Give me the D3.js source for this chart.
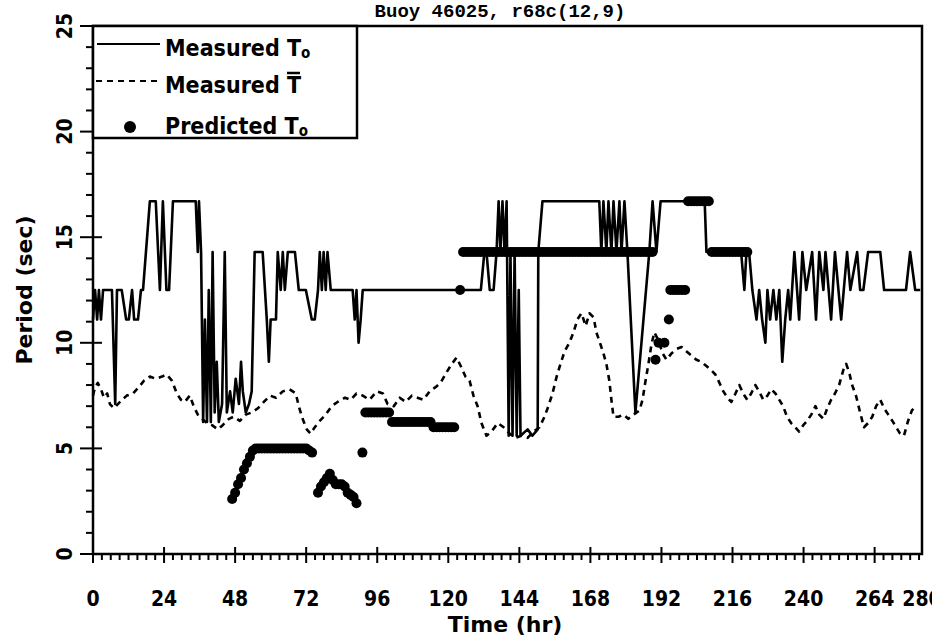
<!DOCTYPE html>
<html>
<head>
<meta charset="utf-8">
<script src="https://cdn.jsdelivr.net/npm/d3@7"></script>
<style>
  html, body { margin: 0; padding: 0; background: #fff; }
  svg { display: block; }
  text { font-family: "DejaVu Sans", sans-serif; font-weight: bold; fill: #000; }
  .cond { font-family: "DejaVu Sans Condensed", "DejaVu Sans", sans-serif; font-stretch: condensed; }
</style>
</head>
<body>
<svg id="chart" width="932" height="640"></svg>
<script>
// ---------------- DATA ----------------
const titleText = "Buoy 46025,  r68c(12,9)";
const xTickValues = [0, 24, 48, 72, 96, 120, 144, 168, 192, 216, 240, 264, 280];
const yTickValues = [0, 5, 10, 15, 20, 25];

// Measured T0 (solid line): time (hr), period (sec)
const measT0Time = [0, 0.7, 1.4, 2.0, 2.7, 3.4, 6.4, 7.5, 8.1, 9.7, 11.2, 12.1, 13.2, 13.9, 15.2, 16.2, 16.9,
  19.2, 21.2, 22.6, 23.6, 24.8, 25.7, 27.0, 34.7, 35.4, 35.8, 36.5, 37.2,
  37.8, 38.5, 39.1, 39.8, 40.4, 41.1, 41.8, 42.5, 43.6, 44.5, 45.2, 46.3, 47.2, 48.2, 49.3, 50.0, 50.6, 51.6, 52.7, 53.6,
  54.6, 57.3, 58.7, 59.4, 60.0, 61.8, 62.4, 63.4, 64.1, 64.8, 65.8, 68.2, 69.5, 71.9, 73.9, 74.9, 76.0, 76.6, 77.3, 77.9,
  78.6, 79.2, 80.3, 87.7, 88.4, 89.0, 89.7, 90.4, 91.1,
  131.0, 132.2, 132.9, 134.0, 135.3, 136.3, 137.0, 137.6, 138.3, 139.0, 139.7, 140.4, 141.0, 141.7, 142.4, 143.1,
  143.8, 144.4, 146.8, 148.4, 150.2, 150.4, 151.8,
  171.0, 171.7, 172.4, 173.4, 174.1, 175.1, 175.8, 176.8, 177.8, 178.5, 179.5, 180.5, 183.2, 187.9, 189.0, 190.3, 191.7,
  206.6, 207.2, 218.9, 220.0, 220.7, 221.6, 222.7, 224.1, 225.0, 226.0, 227.1, 227.8, 228.7, 229.8, 230.8, 231.8,
  232.8, 233.8, 234.8, 235.5, 236.9, 238.5, 239.6, 240.9, 242.9, 244.2, 245.3, 246.7, 247.4, 249.3, 250.6, 252.7,
  254.7, 255.8, 258.1, 259.1, 260.2, 261.8, 265.9, 267.2, 274.6, 276.0, 277.7, 279.4];
const measT0Period = [11.1, 12.5, 11.1, 12.5, 11.1, 12.5, 12.5, 7.1, 12.5, 12.5, 11.1, 11.1, 12.5, 11.1, 11.1, 12.5, 12.5,
  16.7, 16.7, 12.5, 16.7, 12.5, 12.5, 16.7, 16.7, 14.3, 16.7, 14.3, 6.25,
  11.1, 6.25, 12.5, 6.25, 14.3, 6.7, 9.1, 6.25, 7.1, 14.3, 6.7, 7.7, 6.7, 8.3, 7.1, 9.1, 7.7, 6.7, 7.1, 7.7,
  14.3, 14.3, 11.1, 9.1, 11.1, 11.1, 14.3, 12.5, 14.3, 12.5, 14.3, 14.3, 12.5, 12.5, 11.1, 11.1, 12.5, 14.3, 12.5, 14.3,
  12.5, 14.3, 12.5, 12.5, 11.1, 12.5, 10.0, 11.1, 12.5,
  12.5, 14.3, 14.3, 12.5, 12.5, 14.3, 16.7, 14.3, 16.7, 14.3, 16.7, 5.6, 14.3, 5.6, 14.3, 5.6,
  12.5, 5.6, 5.9, 5.6, 5.9, 14.3, 16.7,
  16.7, 14.3, 16.7, 14.3, 16.7, 14.3, 16.7, 14.3, 16.7, 14.3, 16.7, 14.3, 6.7, 14.3, 16.7, 14.3, 16.7,
  16.7, 14.3, 14.3, 12.5, 14.3, 14.3, 12.5, 11.1, 12.5, 11.1, 10.0, 12.5, 11.1, 12.5, 11.1, 12.5,
  9.1, 11.1, 12.5, 11.1, 14.3, 11.1, 14.3, 12.5, 14.3, 11.1, 14.3, 12.5, 14.3, 11.1, 14.3, 11.1,
  14.3, 12.5, 14.3, 12.5, 12.5, 14.3, 14.3, 12.5, 12.5, 14.3, 12.5, 12.5];

// Measured T-bar (dashed line)
const measTbarTime = [0, 0.7, 1.6, 2.7, 3.7, 4.8, 5.7, 7.1, 8.4, 9.8, 11.4, 13.5, 15.5, 17.2, 19.2, 21.2, 23.3, 24.9,
  26.7, 28.3, 29.7, 31.0, 32.7, 34.0, 35.4, 36.8, 38.5, 40.2, 42.2, 43.8, 45.9, 47.5, 49.6, 51.6, 53.6, 55.7, 57.7,
  59.8, 61.8, 64.1, 66.4, 68.5, 69.5, 70.8, 72.2, 73.5, 74.9, 76.6, 78.6, 80.6, 82.6, 85.1, 87.0, 89.0, 91.1, 93.4,
  95.8, 97.9, 99.5, 101.6, 103.6, 105.6, 107.7, 109.6, 111.6, 113.7, 115.7, 117.4, 119.4, 121.2, 122.8, 124.2,
  125.8, 127.2, 128.5, 129.9, 131.2, 132.9, 134.6, 136.7, 138.7, 140.7, 142.7, 144.7, 146.8, 148.8, 150.8, 152.5,
  153.8, 155.2, 156.6, 157.9, 159.3, 160.9, 162.3, 163.6, 165.0, 166.4, 167.7, 169.1, 170.0, 171.0, 172.4, 173.4,
  174.4, 175.1, 175.8, 177.5, 179.2, 180.8, 182.6, 184.6, 185.6, 186.5, 187.6, 188.6, 189.6, 191.0, 192.4, 193.7,
  195.4, 197.0, 198.8, 200.4, 202.1, 203.8, 205.4, 207.2, 208.8, 210.2, 211.6, 212.9, 214.3, 215.6, 217.0, 218.3,
  219.6, 221.0, 222.3, 223.7, 225.0, 226.4, 227.8, 229.1, 230.5, 231.8, 233.1, 234.4, 235.8, 237.2, 238.5, 239.9,
  241.2, 242.6, 244.0, 245.3, 246.7, 248.0, 249.3, 250.6, 252.0, 253.4, 254.4, 255.4, 256.4, 257.7, 259.1, 260.4,
  261.8, 263.2, 264.5, 265.9, 267.2, 268.6, 270.0, 271.3, 272.6, 273.9, 275.3, 276.6, 278.0];
const measTbarPeriod = [7.5, 7.9, 8.1, 7.8, 7.4, 7.6, 7.1, 6.9, 7.1, 7.3, 7.5, 7.6, 7.9, 8.2, 8.4, 8.3, 8.4, 8.5,
  8.2, 7.6, 7.3, 7.2, 7.5, 7.0, 6.6, 6.4, 6.2, 6.1, 5.9, 6.1, 6.4, 6.5, 6.3, 6.6, 6.7, 6.9, 7.2,
  7.5, 7.4, 7.7, 7.8, 7.6, 7.0, 6.4, 5.9, 5.7, 6.0, 6.3, 6.6, 7.0, 7.2, 7.4, 7.3, 7.6, 7.5, 7.3,
  7.7, 7.6, 7.1, 7.0, 7.4, 7.2, 7.5, 7.4, 7.3, 7.7, 7.9, 8.1, 8.6, 9.0, 9.3, 8.9,
  8.4, 8.2, 7.5, 7.0, 6.2, 5.6, 5.8, 6.2, 6.0, 5.7, 5.5, 5.6, 5.5, 5.8, 6.0, 6.5,
  7.0, 7.6, 8.4, 9.0, 9.6, 10.0, 10.5, 11.1, 11.4, 10.8, 11.4, 11.2, 10.5, 10.1, 9.5, 9.0,
  8.2, 7.3, 6.5, 6.5, 6.6, 6.4, 6.6, 6.8, 7.3, 8.1, 9.0, 9.9, 10.5, 10.1, 9.5, 9.2,
  9.5, 9.7, 9.8, 9.6, 9.4, 9.2, 9.1, 8.9, 8.7, 8.5, 8.1, 7.7, 7.4, 7.2, 7.6, 8.0,
  7.6, 7.3, 7.6, 8.0, 7.7, 7.3, 7.5, 7.8, 7.6, 7.3, 7.0, 6.5, 6.2, 6.0, 5.8, 6.1,
  6.3, 6.6, 7.0, 6.6, 6.4, 6.9, 7.3, 7.6, 8.0, 8.7, 9.0, 8.6, 8.0, 7.5, 6.7, 6.0,
  6.2, 6.5, 7.0, 7.3, 6.9, 6.6, 6.3, 6.0, 5.7, 5.6, 6.3, 6.8, 7.0];

// Predicted T0 (dots)
const predTime = [47, 48, 49, 50, 51, 52, 53, 54, 55, 56, 57, 58, 59, 60, 61, 62, 63, 64, 65, 66, 67, 68, 69, 70, 71, 72, 73, 74,
  76, 77, 78, 79, 80, 81, 82, 83, 84, 85, 86, 87, 88, 89,
  91, 92, 93, 94, 95, 96, 97, 98, 99, 100,
  101, 102, 103, 104, 105, 106, 107, 108, 109, 110, 111, 112, 113, 114,
  115, 116, 117, 118, 119, 120, 121, 122, 124,
  125, 126, 127, 128, 129, 130, 131, 132, 133, 134, 135, 136, 137, 138, 139, 140, 141, 142, 143, 144, 145, 146,
  147, 148, 149, 150, 151, 152, 153, 154, 155, 156, 157, 158, 159, 160, 161, 162, 163, 164, 165, 166, 167, 168,
  169, 170, 171, 172, 173, 174, 175, 176, 177, 178, 179, 180, 181, 182, 183, 184, 185, 186, 187, 188, 189,
  190, 191, 193, 194.5, 195, 196, 197, 198, 199, 200,
  201, 202, 203, 204, 205, 206, 207, 208,
  209, 210, 211, 212, 213, 214, 215, 216, 217, 218, 219, 220, 221];
const predPeriod = [2.6, 2.9, 3.3, 3.6, 4.0, 4.3, 4.6, 4.9, 5.0, 5.0, 5.0, 5.0, 5.0, 5.0, 5.0, 5.0, 5.0, 5.0, 5.0, 5.0, 5.0, 5.0, 5.0, 5.0, 5.0, 5.0, 4.9, 4.8,
  2.9, 3.2, 3.4, 3.6, 3.8, 3.5, 3.3, 3.3, 3.3, 3.2, 2.9, 2.8, 2.7, 2.4,
  4.8, 6.7, 6.7, 6.7, 6.7, 6.7, 6.7, 6.7, 6.7, 6.7,
  6.25, 6.25, 6.25, 6.25, 6.25, 6.25, 6.25, 6.25, 6.25, 6.25, 6.25, 6.25, 6.25, 6.25,
  6.0, 6.0, 6.0, 6.0, 6.0, 6.0, 6.0, 6.0, 12.5,
  14.3, 14.3, 14.3, 14.3, 14.3, 14.3, 14.3, 14.3, 14.3, 14.3, 14.3, 14.3, 14.3, 14.3, 14.3, 14.3, 14.3, 14.3, 14.3, 14.3, 14.3, 14.3,
  14.3, 14.3, 14.3, 14.3, 14.3, 14.3, 14.3, 14.3, 14.3, 14.3, 14.3, 14.3, 14.3, 14.3, 14.3, 14.3, 14.3, 14.3, 14.3, 14.3, 14.3, 14.3,
  14.3, 14.3, 14.3, 14.3, 14.3, 14.3, 14.3, 14.3, 14.3, 14.3, 14.3, 14.3, 14.3, 14.3, 14.3, 14.3, 14.3, 14.3, 14.3, 14.3, 14.3,
  9.2, 10.0, 10.0, 11.1, 12.5, 12.5, 12.5, 12.5, 12.5, 12.5,
  16.7, 16.7, 16.7, 16.7, 16.7, 16.7, 16.7, 16.7,
  14.3, 14.3, 14.3, 14.3, 14.3, 14.3, 14.3, 14.3, 14.3, 14.3, 14.3, 14.3, 14.3];

const legendLabels = ["Measured T", "Measured T", "Predicted T"];

// ---------------- CHART ----------------
const svg = d3.select("#chart");
const mL = 93, mR = 922, mT = 26, mB = 554;
const x = d3.scaleLinear().domain([0, 280]).range([mL, mR]);
const y = d3.scaleLinear().domain([0, 25]).range([mB, mT]);

// Title
svg.append("text").attr("x", 500).attr("y", 17).attr("text-anchor", "middle")
  .style("font-family", "'Liberation Mono', 'Courier New', monospace").style("font-size", "19px")
  .text(titleText);

// Frame
svg.append("rect").attr("x", mL).attr("y", mT).attr("width", mR - mL).attr("height", mB - mT)
  .attr("fill", "none").attr("stroke", "#000").attr("stroke-width", 2.5);

// X axis: minor ticks every 3 h, major every 24 h
const xMinor = d3.range(0, 280, 3);
svg.append("g").selectAll("line").data(xMinor).join("line")
  .attr("x1", d => x(d)).attr("x2", d => x(d))
  .attr("y1", d => d % 24 === 0 ? mB - 7 : mB)
  .attr("y2", d => d % 24 === 0 ? mB + 9 : mB + 6)
  .attr("stroke", "#000").attr("stroke-width", 2);
svg.append("g").selectAll("text").data(xTickValues).join("text")
  .attr("class", "cond")
  .attr("x", d => x(d)).attr("y", 606).attr("text-anchor", "middle")
  .style("font-size", "21px").text(d => d);
svg.append("text").attr("x", 505).attr("y", 632).attr("text-anchor", "middle")
  .style("font-size", "22px").text("Time (hr)");

// Y axis: minor every 1, major every 5
const yMinor = d3.range(0, 26, 1);
svg.append("g").selectAll("line").data(yMinor).join("line")
  .attr("y1", d => y(d)).attr("y2", d => y(d))
  .attr("x1", d => d % 5 === 0 ? mL - 13 : mL - 7)
  .attr("x2", d => d % 5 === 0 ? mL + 9 : mL)
  .attr("stroke", "#000").attr("stroke-width", 2);
svg.append("g").selectAll("text").data(yTickValues).join("text")
  .attr("class", "cond")
  .attr("transform", d => `translate(72,${y(d)}) rotate(-90)`)
  .attr("text-anchor", "middle").style("font-size", "21px").text(d => d);
svg.append("text").attr("transform", `translate(32,${(mT + mB) / 2}) rotate(-90)`)
  .attr("text-anchor", "middle").style("font-size", "22px").text("Period (sec)");

// Lines
const solidData = measT0Time.map((t, i) => [t, measT0Period[i]]);
const dashData = measTbarTime.map((t, i) => [t, measTbarPeriod[i]]);
const predData = predTime.map((t, i) => [t, predPeriod[i]]);
const line = d3.line().x(d => x(d[0])).y(d => y(d[1]));

svg.append("path").datum(dashData).attr("d", line)
  .attr("fill", "none").attr("stroke", "#000").attr("stroke-width", 2.6)
  .attr("stroke-dasharray", "6,5").attr("stroke-linejoin", "round");
svg.append("path").datum(solidData).attr("d", line)
  .attr("fill", "none").attr("stroke", "#000").attr("stroke-width", 2.6)
  .attr("stroke-linejoin", "round");
svg.append("g").selectAll("circle").data(predData).join("circle")
  .attr("cx", d => x(d[0])).attr("cy", d => y(d[1])).attr("r", 5).attr("fill", "#000");

// Legend
const lg = svg.append("g");
lg.append("rect").attr("x", mL).attr("y", mT).attr("width", 264).attr("height", 112)
  .attr("fill", "#fff").attr("stroke", "#000").attr("stroke-width", 2.5);
lg.append("line").attr("x1", 97).attr("x2", 160).attr("y1", 44).attr("y2", 44)
  .attr("stroke", "#000").attr("stroke-width", 2.2);
lg.append("line").attr("x1", 96).attr("x2", 160).attr("y1", 81).attr("y2", 81)
  .attr("stroke", "#000").attr("stroke-width", 2.2).attr("stroke-dasharray", "6,5");
lg.append("circle").attr("cx", 130).attr("cy", 127).attr("r", 6).attr("fill", "#000");
const rowsY = [56, 93, 134];
const legendTexts = [];
legendLabels.forEach((lab, i) => {
  const t = lg.append("text").attr("class", "cond").attr("x", 165).attr("y", rowsY[i]).style("font-size", "23px");
  t.append("tspan").text(lab);
  if (i !== 1) t.append("tspan").attr("dy", 2).style("font-size", "15px").text("o");
  legendTexts.push(t);
});
// bar over T in the second legend entry
{
  const len = legendTexts[1].node().getComputedTextLength();
  const tw = 14;
  lg.append("line").attr("x1", 165 + len - tw).attr("x2", 165 + len - 1)
    .attr("y1", rowsY[1] - 20).attr("y2", rowsY[1] - 20).attr("stroke", "#000").attr("stroke-width", 2.5);
}
</script>
</body>
</html>
